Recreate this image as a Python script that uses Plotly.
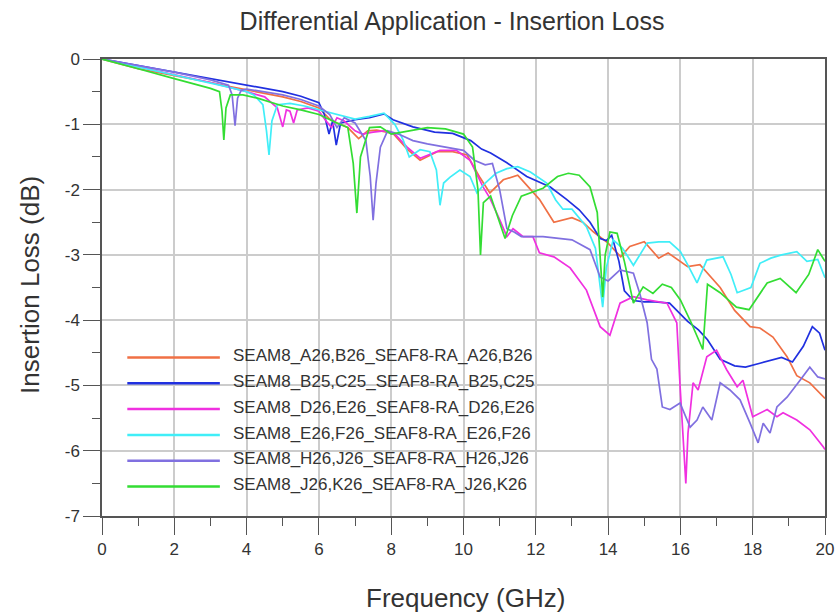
import plotly.graph_objects as go

# ---------------- data ----------------
names = [
    "SEAM8_A26,B26_SEAF8-RA_A26,B26",
    "SEAM8_B25,C25_SEAF8-RA_B25,C25",
    "SEAM8_D26,E26_SEAF8-RA_D26,E26",
    "SEAM8_E26,F26_SEAF8-RA_E26,F26",
    "SEAM8_H26,J26_SEAF8-RA_H26,J26",
    "SEAM8_J26,K26_SEAF8-RA_J26,K26",
]
colors = ["#f07045", "#2030e0", "#f030e0", "#40eef8", "#8070e0", "#33dd33"]

f_a26 = [0,0.5,1,1.5,2,2.5,3,3.5,4,4.5,5,5.5,6,6.3,6.5,6.8,7.1,7.35,7.6,8.05,8.44,8.8,9.27,9.7,10.1,10.46,10.73,11.1,11.5,12.1,12.5,13.0,13.3,13.6,14.0,14.35,14.6,15.0,15.4,15.66,16.0,16.2,16.54,17.1,17.5,17.93,18.2,18.56,18.95,19.22,19.58,20]
il_a26 = [0,-0.08,-0.15,-0.2,-0.25,-0.3,-0.36,-0.42,-0.47,-0.52,-0.58,-0.65,-0.75,-0.92,-0.98,-1.05,-1.22,-1.1,-1.09,-1.14,-1.38,-1.55,-1.42,-1.42,-1.47,-1.82,-2.05,-1.85,-1.78,-2.15,-2.5,-2.43,-2.5,-2.65,-2.82,-3.03,-2.87,-2.8,-3.05,-2.97,-3.1,-3.18,-3.15,-3.5,-3.85,-4.1,-4.12,-4.26,-4.56,-4.85,-4.96,-5.2]

f_b25 = [0,0.5,1,2,3,4,5,5.5,6,6.15,6.28,6.38,6.48,6.6,7.0,7.4,7.8,8.05,8.6,9.2,9.7,10.2,10.5,10.75,11.2,11.75,12.4,12.85,13.2,13.5,13.78,13.95,14.1,14.3,14.45,14.7,15.0,15.3,15.7,16.2,16.5,16.75,17.1,17.5,17.8,18.2,18.5,18.8,19.1,19.4,19.65,19.85,20]
il_b25 = [0,-0.05,-0.1,-0.2,-0.3,-0.4,-0.5,-0.57,-0.67,-0.85,-1.15,-0.95,-1.32,-0.98,-0.93,-0.9,-0.84,-0.93,-1.04,-1.12,-1.14,-1.25,-1.38,-1.44,-1.59,-1.8,-1.96,-2.15,-2.31,-2.5,-2.75,-2.78,-2.7,-3.1,-3.55,-3.7,-3.72,-3.72,-3.74,-4.02,-4.15,-4.3,-4.6,-4.7,-4.72,-4.66,-4.62,-4.57,-4.64,-4.4,-4.1,-4.2,-4.46]

f_d26 = [0,0.5,1,2,3,4,4.5,4.85,5.0,5.1,5.2,5.3,5.4,5.7,6.0,6.2,6.35,6.5,6.7,7.0,7.2,7.5,7.8,8.1,8.44,8.8,9.1,9.35,9.8,10.18,10.54,10.73,11.0,11.2,11.37,11.65,11.92,12.1,12.5,12.95,13.4,13.78,14.05,14.33,14.7,15.08,15.63,15.9,15.99,16.08,16.15,16.21,16.35,16.49,16.73,17.0,17.28,17.57,17.73,18.0,18.4,18.67,18.84,19.22,19.58,19.95,20]
il_d26 = [0,-0.06,-0.12,-0.24,-0.36,-0.5,-0.58,-0.75,-1.04,-0.78,-0.8,-0.98,-0.78,-0.75,-0.8,-0.95,-1.05,-0.9,-0.95,-1.1,-1.15,-1.12,-1.1,-1.15,-1.35,-1.52,-1.45,-1.4,-1.4,-1.55,-1.96,-2.13,-2.46,-2.72,-2.6,-2.72,-2.72,-2.97,-3.03,-3.2,-3.54,-4.1,-4.23,-3.74,-3.64,-3.69,-3.74,-4.04,-5.0,-5.9,-6.5,-5.73,-4.96,-5.07,-4.56,-4.46,-4.76,-5.02,-4.92,-5.48,-5.37,-5.48,-5.42,-5.53,-5.68,-5.94,-5.98]

f_e26 = [0,0.5,1,2,3,3.5,4.0,4.2,4.45,4.55,4.62,4.7,4.85,5.2,5.6,6.0,6.5,7.0,7.4,7.8,8.1,8.33,8.5,8.8,9.07,9.25,9.35,9.45,9.63,9.9,10.18,10.37,10.6,10.9,11.2,11.5,11.85,12.3,12.55,12.75,13.0,13.4,13.65,13.78,13.85,13.95,14.14,14.4,14.7,15.08,15.4,15.7,16.0,16.2,16.46,16.73,17.18,17.4,17.57,17.95,18.2,18.5,18.8,19.22,19.5,19.8,20]
il_e26 = [0,-0.06,-0.12,-0.25,-0.37,-0.43,-0.5,-0.55,-0.7,-1.1,-1.47,-0.95,-0.7,-0.68,-0.72,-0.78,-0.85,-0.92,-0.88,-0.83,-1.0,-1.24,-1.5,-1.39,-1.42,-1.7,-2.24,-1.9,-1.81,-1.7,-1.8,-2.05,-1.9,-1.75,-1.68,-1.65,-1.73,-1.9,-2.16,-2.3,-2.3,-2.57,-2.9,-3.5,-3.8,-3.2,-2.77,-2.9,-3.16,-2.82,-2.8,-2.8,-2.95,-3.15,-3.43,-3.08,-3.03,-3.3,-3.58,-3.5,-3.13,-3.05,-3.0,-2.95,-3.1,-3.07,-3.35]

f_h26 = [0,0.5,1,2,3,3.5,3.6,3.68,3.75,3.85,4.0,4.5,5.0,5.5,6.0,6.3,6.5,6.7,7.0,7.3,7.42,7.5,7.58,7.7,7.9,8.2,8.6,9.0,9.5,10.0,10.3,10.6,10.8,11.0,11.2,11.4,11.6,12.2,13.0,13.5,13.78,14.0,14.33,14.7,14.88,15.08,15.2,15.35,15.5,15.71,15.99,16.27,16.46,16.62,16.87,17.1,17.37,17.65,17.93,18.15,18.29,18.48,18.67,18.95,19.31,19.58,19.8,20]
il_h26 = [0,-0.05,-0.1,-0.2,-0.32,-0.4,-0.55,-1.02,-0.6,-0.48,-0.46,-0.5,-0.55,-0.62,-0.72,-0.85,-1.05,-0.9,-0.98,-1.25,-1.8,-2.47,-1.9,-1.35,-1.1,-1.15,-1.25,-1.3,-1.35,-1.4,-1.55,-1.62,-1.6,-2.0,-2.6,-2.65,-2.72,-2.72,-2.77,-2.92,-3.34,-3.4,-3.23,-3.28,-3.6,-4.04,-4.6,-4.75,-5.33,-5.37,-5.27,-5.64,-5.53,-5.33,-5.53,-4.96,-5.07,-5.22,-5.58,-5.88,-5.58,-5.73,-5.33,-5.18,-4.92,-4.72,-4.87,-4.9]

f_j26 = [0,0.5,1,2,3,3.25,3.32,3.37,3.43,3.55,3.9,4.3,5.0,5.5,6.0,6.5,6.8,6.95,7.05,7.15,7.4,7.7,8.0,8.5,9.0,9.5,10.0,10.25,10.4,10.47,10.55,10.75,11.0,11.15,11.35,11.6,12.2,12.6,12.9,13.2,13.5,13.7,13.8,13.85,13.92,14.05,14.25,14.45,14.7,14.97,15.24,15.5,15.75,16.0,16.3,16.55,16.62,16.75,17.1,17.55,17.9,18.4,18.76,19.2,19.55,19.8,20]
il_j26 = [0,-0.07,-0.15,-0.3,-0.45,-0.5,-0.8,-1.24,-0.75,-0.55,-0.55,-0.6,-0.72,-0.78,-0.85,-0.98,-1.05,-1.6,-2.36,-1.5,-1.05,-1.04,-1.15,-1.1,-1.05,-1.07,-1.15,-1.35,-2.0,-3.0,-2.2,-2.1,-2.5,-2.75,-2.4,-2.1,-1.98,-1.8,-1.75,-1.78,-1.96,-2.35,-3.2,-3.65,-3.0,-2.65,-2.67,-3.1,-3.74,-3.49,-3.59,-3.45,-3.5,-3.69,-4.04,-4.35,-4.45,-3.45,-3.58,-3.8,-3.84,-3.43,-3.36,-3.58,-3.3,-2.92,-3.1]

x_ticks = [0, 2, 4, 6, 8, 10, 12, 14, 16, 18, 20]
x_ticktext = ["0", "2", "4", "6", "8", "10", "12", "14", "16", "18", "20"]
y_ticks = [0, -1, -2, -3, -4, -5, -6, -7]
y_ticktext = ["0", "-1", "-2", "-3", "-4", "-5", "-6", "-7"]

freqs = [f_a26, f_b25, f_d26, f_e26, f_h26, f_j26]
losses = [il_a26, il_b25, il_d26, il_e26, il_h26, il_j26]

FONT = "Liberation Sans, Arial, sans-serif"
TXT = "#333333"

fig = go.Figure()
for n, c, fx, fy in zip(names, colors, freqs, losses):
    fig.add_trace(go.Scatter(x=fx, y=fy, mode="lines", name=n,
                             line=dict(color=c, width=1.7), showlegend=False))

axis_common = dict(
    showline=True, linecolor="#555555", linewidth=1.5, mirror=True,
    showgrid=True, gridcolor="#cccccc", gridwidth=1.5,
    ticks="outside", ticklen=17, tickwidth=1.3, tickcolor="#555555",
    tickfont=dict(family=FONT, size=17, color=TXT),
    zeroline=False, automargin=False,
)

fig.update_xaxes(range=[0, 20], tickvals=x_ticks, ticktext=x_ticktext,
                 minor=dict(dtick=1, ticks="outside", ticklen=8, tickcolor="#555555", showgrid=False),
                 **axis_common)
fig.update_yaxes(range=[-7, 0], tickvals=y_ticks, ticktext=y_ticktext,
                 minor=dict(dtick=0.5, ticks="outside", ticklen=8, tickcolor="#555555", showgrid=False),
                 **axis_common)

# axis titles
fig.add_annotation(xref="paper", yref="paper", x=(465 - 102) / 723, y=(516 - 598) / 457,
                   text="Frequency (GHz)", showarrow=False, xanchor="center", yanchor="middle",
                   font=dict(family=FONT, size=26, color=TXT))
fig.add_annotation(xref="paper", yref="paper", x=(30 - 102) / 723, y=(516 - 285) / 457,
                   text="Insertion Loss (dB)", showarrow=False, xanchor="center", yanchor="middle",
                   textangle=-90, font=dict(family=FONT, size=26, color=TXT))

# custom legend (long line samples like the reference)
legend_x0, legend_x1 = 0.029, 0.613
legend_y0, legend_y1 = 0.035, 0.374
fig.add_shape(type="rect", xref="paper", yref="paper", x0=legend_x0, x1=legend_x1,
              y0=legend_y0, y1=legend_y1, fillcolor="white", line=dict(width=0), layer="between")
row_top = 0.347
row_step = 0.0565
for i, (n, c) in enumerate(zip(names, colors)):
    yy = row_top - i * row_step
    fig.add_shape(type="line", xref="paper", yref="paper", x0=0.035, x1=0.163, y0=yy, y1=yy,
                  line=dict(color=c, width=2.5))
    fig.add_annotation(xref="paper", yref="paper", x=0.179, y=yy + 0.004, text=n, showarrow=False,
                       xanchor="left", yanchor="middle",
                       font=dict(family=FONT, size=17, color=TXT))

fig.update_layout(
    width=840, height=615,
    margin=dict(l=102, r=15, t=59, b=99),
    paper_bgcolor="white", plot_bgcolor="white",
    title=dict(text="Differential Application - Insertion Loss", x=452 / 840, xanchor="center",
               y=1 - 21 / 615, yanchor="middle", font=dict(family=FONT, size=25, color=TXT)),
    showlegend=False,
)

fig.write_html("out.html", config={"displayModeBar": False},
               post_script="document.body.style.margin='0';document.body.style.overflow='hidden';")
